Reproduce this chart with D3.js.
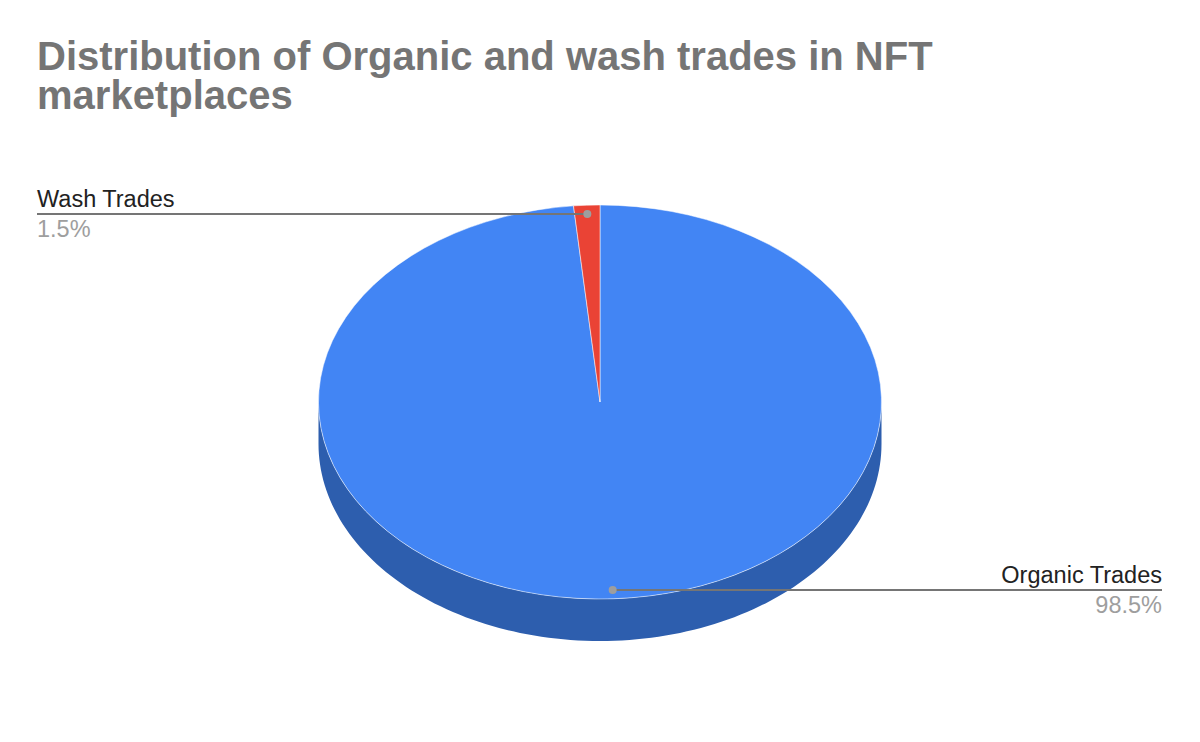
<!DOCTYPE html>
<html><head><meta charset="utf-8">
<script src="https://cdn.jsdelivr.net/npm/d3@7"></script>
<style>body{margin:0;background:#fff}svg{display:block}</style>
</head><body>
<svg id="c" width="1200" height="742"></svg>
<script>
const titleLines = ["Distribution of Organic and wash trades in NFT", "marketplaces"];
const categories = ["Organic Trades", "Wash Trades"];
const values = [98.5, 1.5];
const pctLabels = ["98.5%", "1.5%"];
const colors = ["#4285f4", "#ea4335"];
const sideColors = ["#2d5eae", "#a5342a"];

const W = 1200, H = 742;
const cx = 600, cy = 402, rx = 281.5, ry = 197, depth = 42;
const svg = d3.select("#c");
svg.append("rect").attr("width", W).attr("height", H).attr("fill", "#fff");

const title = svg.append("text")
  .attr("font-family", "'Liberation Sans', Arial, sans-serif")
  .attr("font-weight", "bold").attr("font-size", 40).attr("fill", "#757575");
title.selectAll("tspan").data(titleLines).join("tspan")
  .attr("x", 37).attr("y", (d, i) => 70 + i * 39)
  .text(d => d);

const pie = d3.pie().sort(null).value(d => d.v);
const data = categories.map((c, i) => ({c, v: values[i], p: pctLabels[i], i}));
const arcs = pie(data);

// side (visible between angles PI/2 and 3PI/2)
const pt = (a, dy) => [cx + rx * Math.sin(a), cy - ry * Math.cos(a) + dy];
const line = d3.line();
arcs.forEach(a => {
  const s = Math.max(a.startAngle, Math.PI / 2), e = Math.min(a.endAngle, 3 * Math.PI / 2);
  if (e <= s) return;
  const n = 120, top = [], bot = [];
  for (let k = 0; k <= n; k++) {
    const t = s + (e - s) * k / n;
    top.push(pt(t, 0)); bot.push(pt(t, depth));
  }
  svg.append("path").attr("d", line(top.concat(bot.reverse())) + "Z")
    .attr("fill", sideColors[a.data.i]);
});

// top
const arc = d3.arc().innerRadius(0).outerRadius(rx);
const g = svg.append("g").attr("transform", `translate(${cx},${cy}) scale(1,${ry / rx})`);
g.selectAll("path").data(arcs).join("path")
  .attr("d", arc).attr("fill", d => colors[d.data.i])
  .attr("stroke", "rgba(255,255,255,0.5)").attr("stroke-width", 1)
  .attr("vector-effect", "non-scaling-stroke");

// labels
const f = 0.955;
arcs.forEach(a => {
  const m = (a.startAngle + a.endAngle) / 2;
  const [dx, dy] = [cx + rx * f * Math.sin(m), cy - ry * f * Math.cos(m)];
  const left = Math.sin(m) < 0 || (a.data.i === 1);
  const ex = left ? 37 : 1162;
  svg.append("line").attr("x1", dx).attr("y1", dy).attr("x2", ex).attr("y2", dy)
    .attr("stroke", "#757575").attr("stroke-width", 2);
  svg.append("circle").attr("cx", dx).attr("cy", dy).attr("r", 4).attr("fill", "#9e9e9e");
  svg.append("text").attr("x", ex).attr("y", dy - 7)
    .attr("text-anchor", left ? "start" : "end")
    .attr("font-family", "'Liberation Sans', Arial, sans-serif").attr("font-size", 23.5).attr("fill", "#222")
    .text(a.data.c);
  svg.append("text").attr("x", ex).attr("y", dy + 23)
    .attr("text-anchor", left ? "start" : "end")
    .attr("font-family", "'Liberation Sans', Arial, sans-serif").attr("font-size", 23.5).attr("fill", "#9e9e9e")
    .text(a.data.p);
});
</script>
</body></html>
